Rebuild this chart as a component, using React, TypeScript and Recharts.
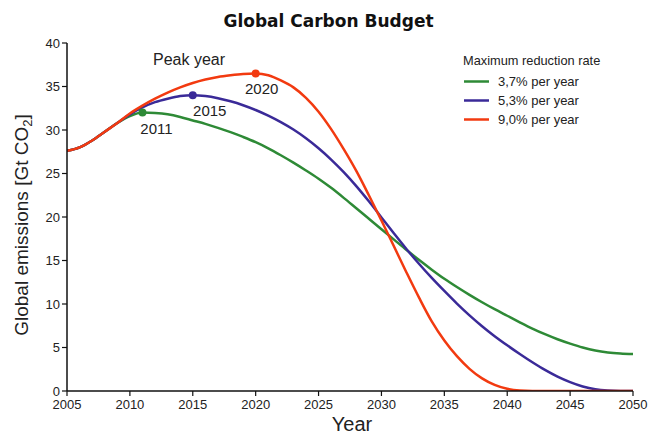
import { LineChart, Line, XAxis, YAxis, ReferenceDot, Legend, Label } from 'recharts';

const years = [
    2005, 2006, 2007, 2008, 2009, 2010, 2011, 2012, 2013, 2014,
    2015, 2016, 2017, 2018, 2019, 2020, 2021, 2022, 2023, 2024,
    2025, 2026, 2027, 2028, 2029, 2030, 2031, 2032, 2033, 2034,
    2035, 2036, 2037, 2038, 2039, 2040, 2041, 2042, 2043, 2044,
    2045, 2046, 2047, 2048, 2049, 2050,
];

const rate37 = [
    27.6, 28.0, 28.8, 29.8, 30.8, 31.6, 32.0, 31.95, 31.8, 31.5,
    31.1, 30.7, 30.25, 29.75, 29.2, 28.6, 27.9, 27.1, 26.25, 25.35,
    24.4, 23.35, 22.2, 21.0, 19.8, 18.6, 17.4, 16.2, 15.05, 13.95,
    12.9, 11.95, 11.05, 10.2, 9.4, 8.65, 7.9, 7.18, 6.53, 5.95,
    5.45, 5.0, 4.65, 4.43, 4.31, 4.25,
];

const rate53 = [
    27.6, 28.0, 28.8, 29.8, 30.8, 31.8, 32.6, 33.2, 33.6, 33.9,
    34.0, 33.9, 33.65, 33.3, 32.85, 32.3, 31.65, 30.9, 30.05, 29.05,
    27.9, 26.6, 25.15, 23.55, 21.8, 19.95, 18.1, 16.3, 14.6, 13.0,
    11.5, 10.05, 8.7, 7.45, 6.3, 5.25, 4.25, 3.3, 2.42, 1.65,
    1.02, 0.52, 0.2, 0.05, 0, 0,
];

const rate90 = [
    27.6, 28.0, 28.8, 29.8, 30.8, 31.9, 32.8, 33.6, 34.3, 34.9,
    35.4, 35.8, 36.1, 36.3, 36.45, 36.5, 36.3, 35.7, 34.9, 33.7,
    32.1, 30.1, 27.8, 25.3, 22.5, 19.6, 16.6, 13.6, 10.7, 8.0,
    5.8, 4.0, 2.55, 1.45, 0.7, 0.25, 0.05, 0, 0, 0,
    0, 0, 0, 0, 0, 0,
];

const xTicks = [2005, 2010, 2015, 2020, 2025, 2030, 2035, 2040, 2045, 2050];
const yTicks = [0, 5, 10, 15, 20, 25, 30, 35, 40];

const peakYears = [2011, 2015, 2020];
const peakValues = [32.0, 34.0, 36.5];
const peakLabelShift = [14, 17, 6];

const seriesNames = ['3,7% per year', '5,3% per year', '9,0% per year'];
const seriesKeys = ['r37', 'r53', 'r90'];
const colors = ['#2e8a36', '#3a2a98', '#f23a10'];

const data = years.map((year, i) => ({
    year,
    r37: rate37[i],
    r53: rate53[i],
    r90: rate90[i],
}));

const font = '"Liberation Sans", Arial, Helvetica, sans-serif';

const peakLabel = (text: string, dx: number) => (props: any) => {
    const { viewBox } = props;
    const cx = viewBox.x + viewBox.width / 2;
    const cy = viewBox.y + viewBox.height / 2;
    return (
        <text x={cx + dx} y={cy + 21} textAnchor="middle" fontFamily={font} fontSize={15} fill="#222">
            {text}
        </text>
    );
};

const YearLabel = (props: any) => {
    const { viewBox } = props;
    return (
        <text x={viewBox.x + viewBox.width / 2 + 2} y={viewBox.y + 40} textAnchor="middle" fontFamily={font} fontSize={20} fill="#222">
            Year
        </text>
    );
};

const EmissionsLabel = (props: any) => {
    const { viewBox } = props;
    const x = viewBox.x + 8;
    const y = viewBox.y + viewBox.height / 2 + 8;
    return (
        <text x={x} y={y} transform={`rotate(-90 ${x} ${y})`} textAnchor="middle" fontFamily={font} fontSize={19} fill="#222">
            Global emissions [Gt CO
            <tspan fontSize={13} dy={4}>2</tspan>
            <tspan dy={-4}>]</tspan>
        </text>
    );
};

const LegendBox = (props: any) => {
    const { payload } = props;
    return (
        <div style={{ fontFamily: font, color: '#222' }}>
            <div style={{ fontSize: 12.8, lineHeight: '15px', marginBottom: 4 }}>Maximum reduction rate</div>
            {(payload || []).map((entry: any) => (
                <div key={entry.value} style={{ display: 'flex', alignItems: 'center', height: 19 }}>
                    <svg width={35} height={19}>
                        <line x1={1} x2={26} y1={9.5} y2={9.5} stroke={entry.color} strokeWidth={2.5} />
                    </svg>
                    <span style={{ fontSize: 13 }}>{entry.value}</span>
                </div>
            ))}
        </div>
    );
};

export default function App() {
    return (
        <div style={{ position: 'absolute', left: 0, top: 0, width: 651, height: 434, background: '#fff' }}>
            <div
                style={{
                    position: 'absolute', left: 0, top: 11, width: 657, textAlign: 'center',
                    fontFamily: '"DejaVu Sans", sans-serif', fontWeight: 'bold', fontSize: 17, lineHeight: '20px', color: '#111',
                }}
            >
                Global Carbon Budget
            </div>
            <svg style={{ position: 'absolute', left: 0, top: 0, pointerEvents: 'none' }} width={651} height={434}>
                <text x={153} y={65} fontFamily={font} fontSize={16} fill="#222">Peak year</text>
            </svg>
            <LineChart width={651} height={434} data={data} margin={{ top: 43, right: 18, left: 20, bottom: 0 }}>
                <XAxis
                    dataKey="year"
                    type="number"
                    domain={[2005, 2050]}
                    ticks={xTicks}
                    allowDataOverflow
                    height={43}
                    tickSize={5}
                    tickMargin={4}
                    tick={{ fontFamily: font, fontSize: 13, fill: '#222' }}
                    axisLine={{ stroke: '#111', strokeWidth: 1.5 }}
                    tickLine={{ stroke: '#111', strokeWidth: 1.2 }}
                >
                    <Label content={YearLabel} />
                </XAxis>
                <XAxis
                    xAxisId="top"
                    orientation="top"
                    dataKey="year"
                    type="number"
                    domain={[2005, 2050]}
                    ticks={xTicks}
                    allowDataOverflow
                    height={0}
                    mirror
                    tick={false}
                    tickSize={4}
                    axisLine={{ stroke: '#222', strokeWidth: 1.5 }}
                    tickLine={{ stroke: '#222', strokeWidth: 1 }}
                />
                <YAxis
                    type="number"
                    domain={[0, 40]}
                    ticks={yTicks}
                    allowDataOverflow
                    width={47}
                    tickSize={5}
                    tickMargin={2}
                    tick={{ fontFamily: font, fontSize: 13, fill: '#222' }}
                    axisLine={{ stroke: '#111', strokeWidth: 1.5 }}
                    tickLine={{ stroke: '#111', strokeWidth: 1.2 }}
                >
                    <Label content={EmissionsLabel} />
                </YAxis>
                <YAxis
                    yAxisId="right"
                    orientation="right"
                    type="number"
                    domain={[0, 40]}
                    allowDataOverflow
                    width={0}
                    tick={false}
                    tickLine={false}
                    axisLine={{ stroke: '#222', strokeWidth: 1.5 }}
                />
                <Legend
                    layout="horizontal"
                    verticalAlign="middle"
                    align="center"
                    content={LegendBox}
                    wrapperStyle={{ position: 'absolute', left: 463, top: 53, width: 170 }}
                />
                {seriesKeys.map((key, i) => (
                    <Line
                        key={key}
                        type="monotone"
                        dataKey={key}
                        name={seriesNames[i]}
                        stroke={colors[i]}
                        strokeWidth={2.5}
                        dot={false}
                        activeDot={false}
                        isAnimationActive={false}
                    />
                ))}
                {peakYears.map((year, i) => (
                    <ReferenceDot
                        key={year}
                        x={year}
                        y={peakValues[i]}
                        r={4}
                        fill={colors[i]}
                        stroke="none"
                        label={peakLabel(String(year), peakLabelShift[i])}
                    />
                ))}
            </LineChart>
        </div>
    );
}
